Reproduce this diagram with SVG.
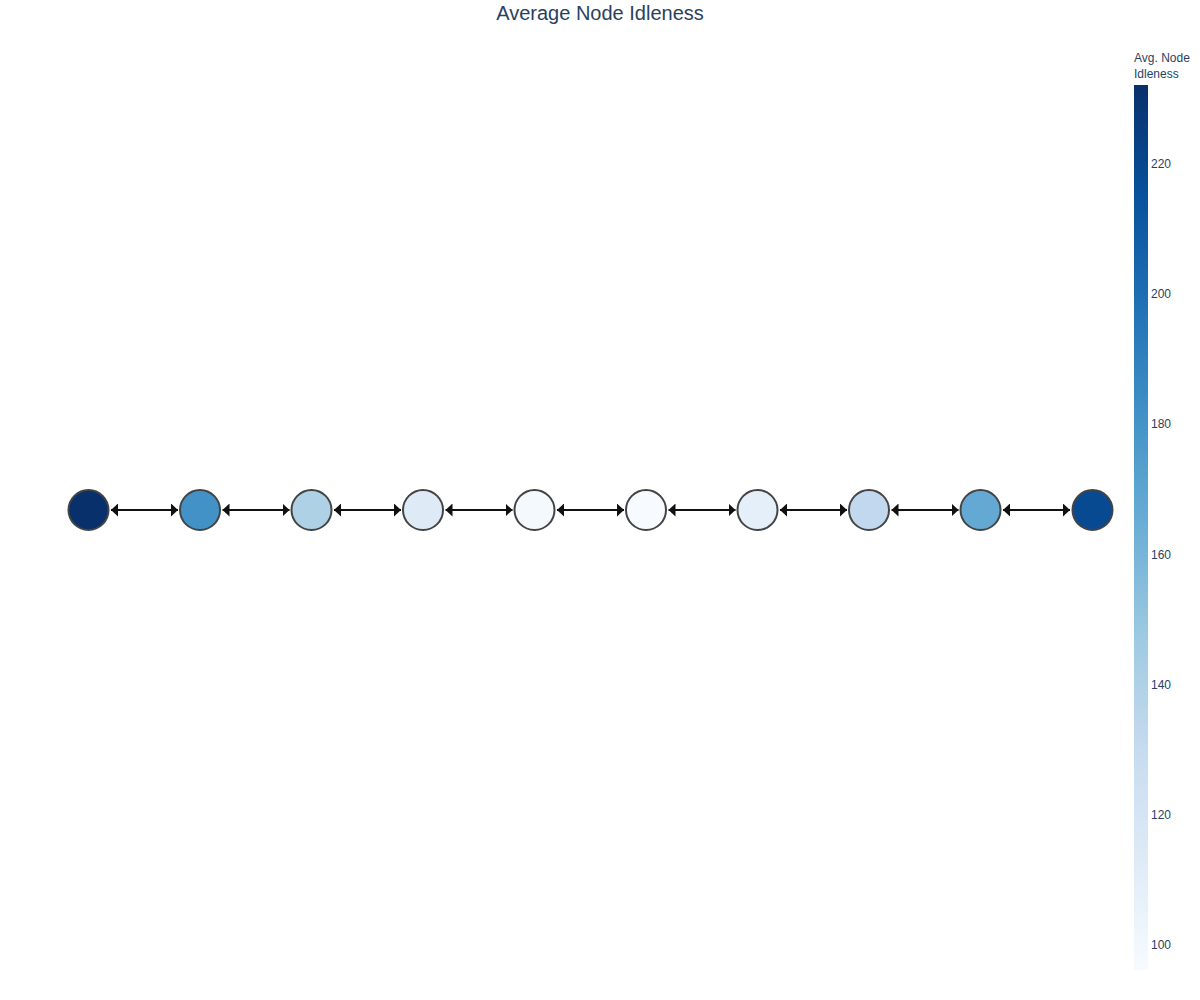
<svg xmlns="http://www.w3.org/2000/svg" width="1200" height="1000" viewBox="0 0 1200 1000">
<defs>
<style>
.node{stroke:#444;stroke-width:2}
.edge{stroke:#111;stroke-width:2;fill:none;marker-start:url(#ah);marker-end:url(#ah)}
.t{font-family:"Liberation Sans",Arial,sans-serif;fill:#2a3f5f}
</style>
<marker id="ah" viewBox="0 0 7 13" refX="7" refY="6.5" markerWidth="7" markerHeight="13" markerUnits="userSpaceOnUse" orient="auto-start-reverse">
<path d="M0,0 L7,6.5 L0,13 Z" fill="#111"/>
</marker>
<linearGradient id="cb" x1="0" y1="1" x2="0" y2="0">
<stop offset="0" stop-color="rgb(247,251,255)"/>
<stop offset="0.125" stop-color="rgb(222,235,247)"/>
<stop offset="0.25" stop-color="rgb(198,219,239)"/>
<stop offset="0.375" stop-color="rgb(158,202,225)"/>
<stop offset="0.5" stop-color="rgb(107,174,214)"/>
<stop offset="0.625" stop-color="rgb(66,146,198)"/>
<stop offset="0.75" stop-color="rgb(33,113,181)"/>
<stop offset="0.875" stop-color="rgb(8,81,156)"/>
<stop offset="1" stop-color="rgb(8,48,107)"/>
</linearGradient>
</defs>
<rect width="1200" height="1000" fill="#fff"/>
<text class="t" x="600" y="20" font-size="20" text-anchor="middle">Average Node Idleness</text>
<g id="connectors">
<line class="edge" x1="111" y1="510" x2="178" y2="510"/>
<line class="edge" x1="222.5" y1="510" x2="289.5" y2="510"/>
<line class="edge" x1="334" y1="510" x2="401" y2="510"/>
<line class="edge" x1="445.5" y1="510" x2="512.5" y2="510"/>
<line class="edge" x1="557" y1="510" x2="624" y2="510"/>
<line class="edge" x1="668.5" y1="510" x2="735.5" y2="510"/>
<line class="edge" x1="780" y1="510" x2="847" y2="510"/>
<line class="edge" x1="891.5" y1="510" x2="958.5" y2="510"/>
<line class="edge" x1="1003" y1="510" x2="1070" y2="510"/>
</g>
<g id="node1"><circle class="node" cx="88.5" cy="510" r="20" fill="#08306b"/></g>
<g id="node2"><circle class="node" cx="200" cy="510" r="20" fill="#4292c7"/></g>
<g id="node3"><circle class="node" cx="311.5" cy="510" r="20" fill="#aed1e6"/></g>
<g id="node4"><circle class="node" cx="423" cy="510" r="20" fill="#deebf7"/></g>
<g id="node5"><circle class="node" cx="534.5" cy="510" r="20" fill="#f4f9fe"/></g>
<g id="node6"><circle class="node" cx="646" cy="510" r="20" fill="#f7fbff"/></g>
<g id="node7"><circle class="node" cx="757.5" cy="510" r="20" fill="#e4eff9"/></g>
<g id="node8"><circle class="node" cx="869" cy="510" r="20" fill="#c2d8ee"/></g>
<g id="node9"><circle class="node" cx="980.5" cy="510" r="20" fill="#64a9d3"/></g>
<g id="node10"><circle class="node" cx="1092.5" cy="510" r="20" fill="#084a92"/></g>
<g id="colorbar">
<rect x="1134" y="85" width="14" height="885" fill="url(#cb)"/>
<text class="t" x="1134" y="62" font-size="12">Avg. Node</text>
<text class="t" x="1134" y="78" font-size="12">Idleness</text>
<g font-size="12">
<text class="t" x="1151" y="168">220</text>
<text class="t" x="1151" y="298">200</text>
<text class="t" x="1151" y="428">180</text>
<text class="t" x="1151" y="559">160</text>
<text class="t" x="1151" y="689">140</text>
<text class="t" x="1151" y="819">120</text>
<text class="t" x="1151" y="949">100</text>
</g>
</g>
</svg>
